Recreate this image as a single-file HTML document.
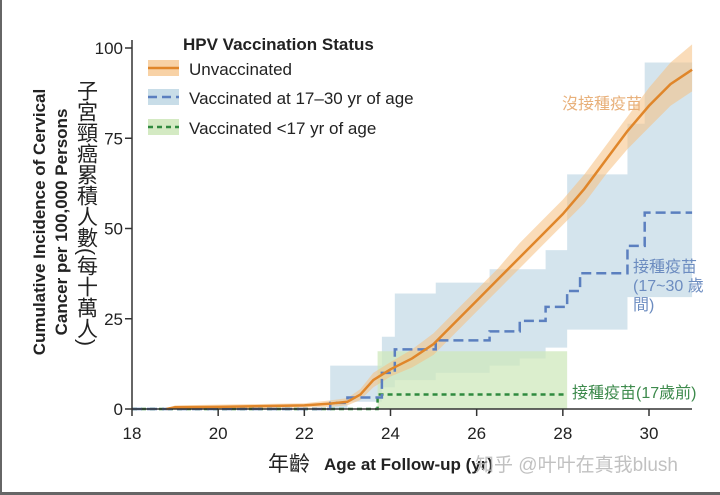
<!DOCTYPE html>
<html><head><meta charset="utf-8"><style>
html,body{margin:0;padding:0;background:#fff}
#wrap{position:relative;width:720px;height:495px;overflow:hidden;background:#fff;box-sizing:border-box;border-left:2px solid #666;border-bottom:3px solid #666}
svg{position:absolute;left:0;top:0}
text{font-family:"Liberation Sans","Noto Sans CJK TC",sans-serif}
</style></head><body>
<div id="wrap">
<svg id="chart" width="720" height="495"></svg>
</div>
<script>
const xTicks=[18,20,22,24,26,28,30];
const yTicks=[0,25,50,75,100];
const unvacAge=[18.8,19,20,21,22,22.6,23,23.3,23.6,24,24.5,25,25.5,26,26.5,27,27.5,28,28.5,29,29.5,30,30.5,31];
const unvacVal=[0,0.5,0.6,0.8,1,1.5,2,4,8,11,14,18,24,30,36,42,48,54,61,69,77,84,90,94];
const unvacLow=[0,0,0,0.2,0.4,0.6,1,2.5,6,9,11.5,15,21,27,33,39,45,51,57,65,72,78,84,88];
const unvacHigh=[0,1,1.2,1.4,1.6,2.4,3,5.5,10,13,16.5,21,27,33,39,46,52,58,65,73,81,89,96,101];
const v1730Age=[18,22.6,23.0,23.8,24.1,25.05,26.3,27.0,27.6,28.1,28.4,29.5,29.9,31];
const v1730Val=[0,1.7,3.2,10,16.5,19,21.5,24.4,28.3,32.7,37.6,45.2,54.4,54.4];
const v1730High=[0,12,12,20,32,35,38.7,38.7,44,65,65,79,96,96];
const v1730Low=[0,0,0,2,6,8,10,12,14,17,22,22,31,31];
const v17Age=[18,23.7,28.1];
const v17Val=[0,4,4];
const v17High=[0,16,16];
const x0=130,x1=690,y0=409,y1=48;
const X=v=>x0+(v-18)*(647-130)/12;
const Y=v=>y0-(v)*(y0-y1)/100;
const svg=document.getElementById('chart');
const NS='http://www.w3.org/2000/svg';
function el(tag,attrs,parent){const e=document.createElementNS(NS,tag);for(const k in attrs)e.setAttribute(k,attrs[k]);(parent||svg).appendChild(e);return e;}
function stepPath(ages,vals,end){let d='M'+X(ages[0])+','+Y(vals[0]);for(let i=1;i<ages.length;i++){d+='H'+X(ages[i])+'V'+Y(vals[i]);}d+='H'+X(end);return d;}
function stepBand(ages,hi,lo,end){let d='M'+X(ages[0])+','+Y(hi[0]);for(let i=1;i<ages.length;i++){d+='H'+X(ages[i])+'V'+Y(hi[i]);}d+='H'+X(end)+'V'+Y(lo[lo.length-1]);for(let i=ages.length-1;i>=0;i--){d+='H'+X(ages[i])+'V'+Y(lo[i]);}return d+'Z';}
let b=el('path',{d:stepBand(v1730Age,v1730High,v1730Low,31),fill:'#c2d9e6','fill-opacity':0.7});

let lowArr=v17Val.map(()=>0);
b=el('path',{d:stepBand(v17Age,v17High,lowArr,28.1),fill:'#cfe8bc','fill-opacity':0.75});

let bd='M'+unvacAge.map((a,i)=>X(a)+','+Y(unvacHigh[i])).join('L');
for(let i=unvacAge.length-1;i>=0;i--)bd+='L'+X(unvacAge[i])+','+Y(unvacLow[i]);
b=el('path',{d:bd+'Z',fill:'#f5bf80','fill-opacity':0.55});

let l=el('path',{d:stepPath(v17Age,v17Val,28.1),fill:'none',stroke:'#2f8a3e','stroke-width':2.5,'stroke-dasharray':'5,4'});

l=el('path',{d:stepPath(v1730Age,v1730Val,31),fill:'none',stroke:'#5b7fbf','stroke-width':2.5,'stroke-dasharray':'10,5'});

l=el('polyline',{points:unvacAge.map((a,i)=>X(a)+','+Y(unvacVal[i])).join(' '),fill:'none',stroke:'#e0862a','stroke-width':2.5});

let ax=el('line',{x1:x0,y1:40,x2:x0,y2:y0,stroke:'#333','stroke-width':1.5});

ax=el('line',{x1:x0,y1:y0,x2:x1,y2:y0,stroke:'#333','stroke-width':1.5});

yTicks.forEach(v=>{
 el('line',{x1:x0-7,y1:Y(v),x2:x0,y2:Y(v),stroke:'#333','stroke-width':1.5});
 const t=el('text',{x:x0-9,y:Y(v)+6,'text-anchor':'end','font-size':17,fill:'#222'});t.textContent=v;
 
});
xTicks.forEach(v=>{
 el('line',{x1:X(v),y1:y0,x2:X(v),y2:y0+7,stroke:'#333','stroke-width':1.5});
 const t=el('text',{x:X(v),y:y0+30,'text-anchor':'middle','font-size':17,fill:'#222'});t.textContent=v;
 
});
</script>
<svg width="720" height="495" style="position:absolute;left:0;top:0">
<g transform="translate(45,222) rotate(-90)">
<text x="0" y="0" text-anchor="middle" font-size="17" font-weight="bold" fill="#222">Cumulative Incidence of Cervical</text>
<text x="0" y="22" text-anchor="middle" font-size="17" font-weight="bold" fill="#222">Cancer per 100,000 Persons</text>
</g>
<text x="86" y="80" font-size="21" fill="#222" style="writing-mode:vertical-rl">子宮頸癌累積人數(每十萬人)</text>
<text x="268" y="471" font-size="21" fill="#222">年齡</text>
<text x="324" y="470" font-size="17" font-weight="bold" fill="#222">Age at Follow-up (yr)</text>
<text x="475" y="471" font-size="19" fill="#bbb" opacity="0.9">知乎 @叶叶在真我blush</text>
<text x="183" y="50" font-size="17" font-weight="bold" fill="#222">HPV Vaccination Status</text>
<g>
<rect x="148" y="60" width="31" height="16" fill="#f5bf80" opacity="0.7"/><line x1="148" y1="68" x2="179" y2="68" stroke="#e0862a" stroke-width="2.5"/>
<text x="189" y="75" font-size="17" fill="#222">Unvaccinated</text></g>
<g>
<rect x="148" y="89" width="31" height="16" fill="#c2d9e6" opacity="0.9"/><line x1="148" y1="97" x2="179" y2="97" stroke="#5b7fbf" stroke-width="2.5" stroke-dasharray="9,5"/>
<text x="189" y="104" font-size="17" fill="#222">Vaccinated at 17–30 yr of age</text></g>
<g>
<rect x="148" y="119" width="31" height="16" fill="#cfe8bc" opacity="0.9"/><line x1="148" y1="127" x2="179" y2="127" stroke="#2f8a3e" stroke-width="2.5" stroke-dasharray="5,4"/>
<text x="189" y="134" font-size="17" fill="#222">Vaccinated &lt;17 yr of age</text></g>
<text x="562" y="109" font-size="16" fill="#e8b07a">沒接種疫苗</text>
<text x="633" y="272" font-size="16" fill="#6c8cc0">接種疫苗</text>
<text x="633" y="291" font-size="16" fill="#6c8cc0">(17~30 歲</text>
<text x="633" y="310" font-size="16" fill="#6c8cc0">間)</text>
<text x="572" y="398" font-size="16" fill="#3d8a4c">接種疫苗(17歲前)</text>
</svg>
</body></html>
